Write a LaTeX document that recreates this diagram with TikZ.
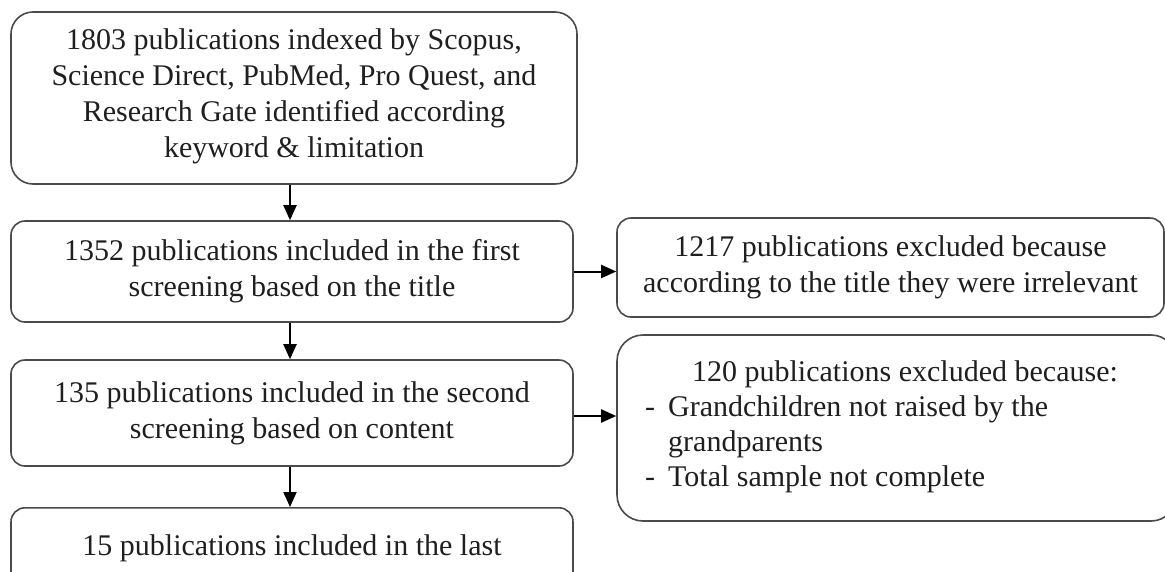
\documentclass[tikz,border=0pt]{standalone}
\usepackage{fontspec}
\setmainfont{Liberation Serif}
\usetikzlibrary{arrows.meta,positioning}
\definecolor{edge}{HTML}{4A4A4A}
\tikzset{
  box/.style={draw=edge, line width=1.6pt, rounded corners=14pt, fill=white, inner sep=0pt},
  txt/.style={align=center, font=\fontsize{30}{36}\selectfont, inner sep=0pt, text=black!88},
  link/.style={line width=2pt, -{Triangle[length=15pt,width=13pt]}}
}
\begin{document}
\begin{tikzpicture}[x=1pt,y=1pt]
\useasboundingbox (0,0) rectangle (1165,-571);
\clip (0,0) rectangle (1165,-571);
% left column
\node[box, minimum width=566, minimum height=172, rounded corners=22pt] (b1) at (294,-98) {};
\node[txt] (t1) at ([yshift=2pt]b1.center) {1803 publications indexed by Scopus,\\Science Direct, PubMed, Pro Quest, and\\Research Gate identified according\\keyword \& limitation};
\node[box, minimum width=562, minimum height=101] (b2) at (292,-271.5) {};
\node[txt] (t2) at (b2.center) {1352 publications included in the first\\screening based on the title};
\node[box, minimum width=562, minimum height=106] (b3) at (292,-413) {};
\node[txt] (t3) at (b3.center) {135 publications included in the second\\screening based on content};
\node[box, minimum width=562, minimum height=120, anchor=north] (b4) at (292,-507) {};
\node[txt, anchor=base] (t4) at (292,-555) {15 publications included in the last};
% right column
\node[box, minimum width=547, minimum height=99] (ra) at (890.5,-267.5) {};
\node[txt] (ta) at (ra.center) {1217 publications excluded because\\according to the title they were irrelevant};
\node[box, minimum width=560, minimum height=186, rounded corners=26pt] (rb) at (897,-428) {};
\node[txt, anchor=base] (tb1) at (905,-381) {120 publications excluded because:};
\node[txt, anchor=base west] (tb2) at (645,-416) {-\hspace{13pt}Grandchildren not raised by the};
\node[txt, anchor=base west] (tb3) at (668,-451) {grandparents};
\node[txt, anchor=base west] (tb4) at (645,-486) {-\hspace{13pt}Total sample not complete};
% connectors
\draw[link] ([xshift=-4pt]b1.south) -- ([xshift=-2pt]b2.north);
\draw[link] ([xshift=-2pt]b2.south) -- ([xshift=-2pt]b3.north);
\draw[link] ([xshift=-2pt]b3.south) -- ([xshift=-2pt]b4.north);
\draw[link] (b2.east) -- (b2.east -| ra.west);
\draw[link] ([yshift=-3pt]b3.east) -- ([yshift=-3pt]b3.east -| rb.west);
\end{tikzpicture}
\end{document}
